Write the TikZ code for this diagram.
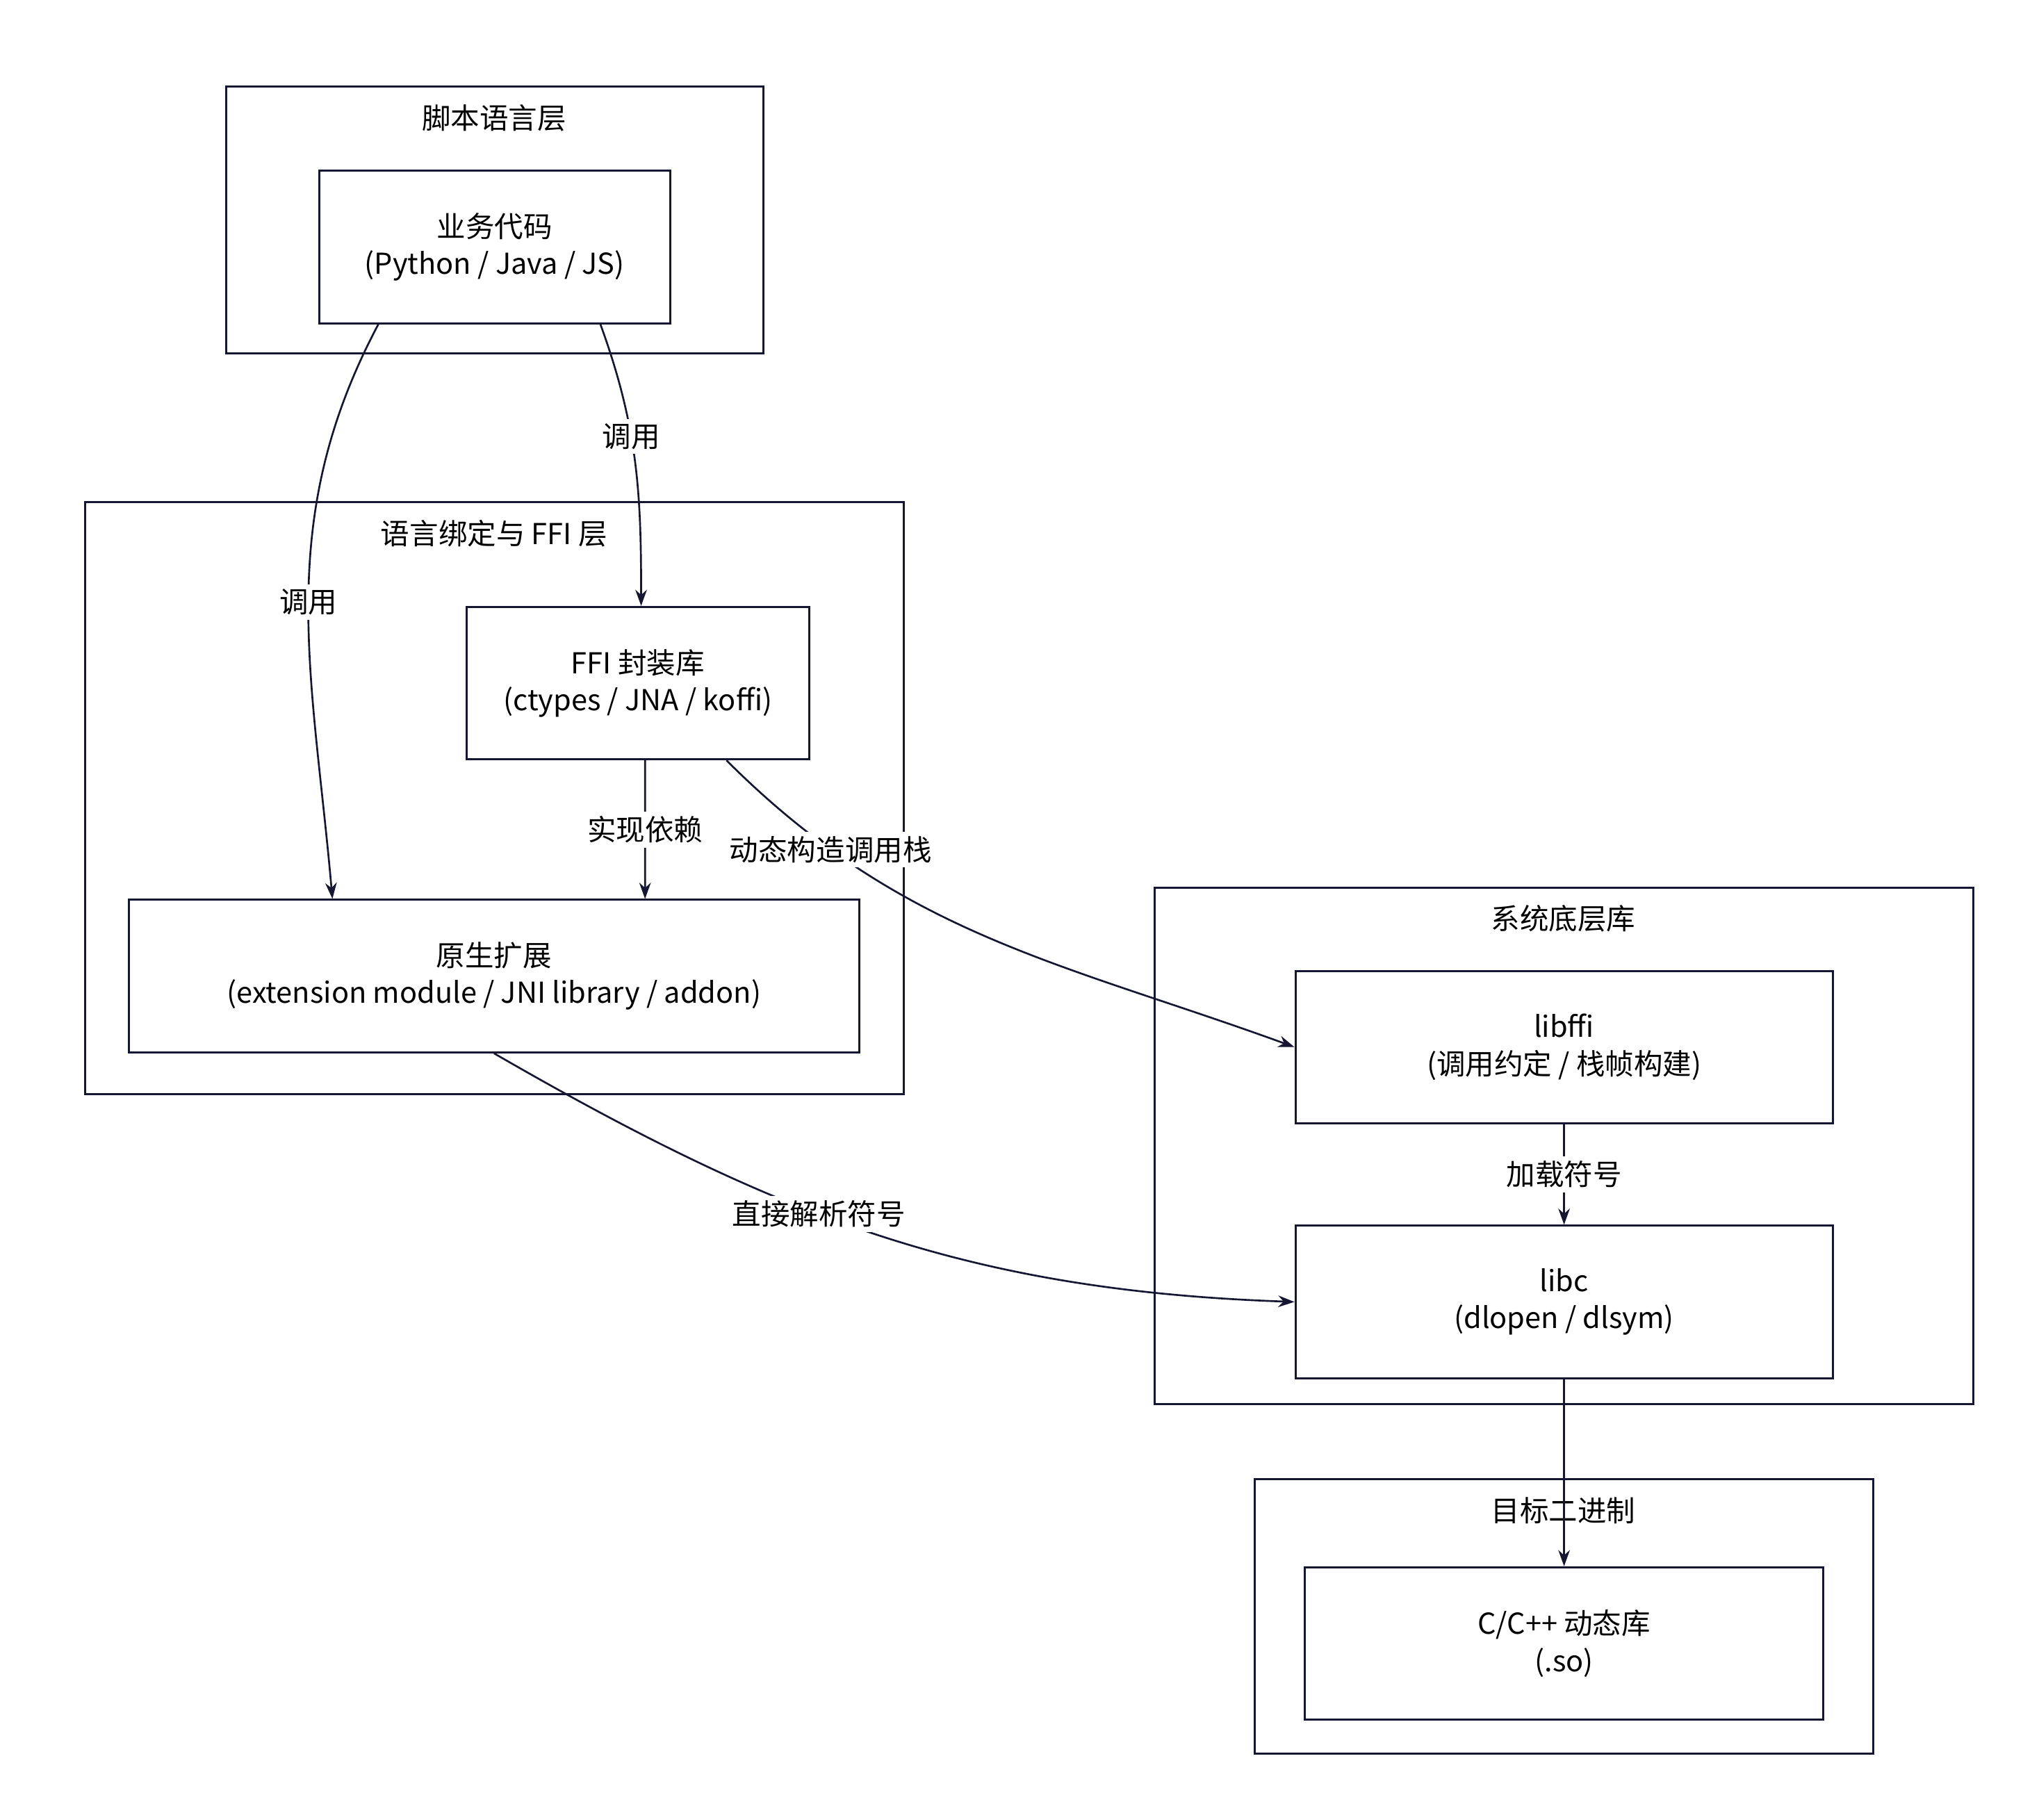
\documentclass[tikz,border=0pt]{standalone}
\usepackage{fontspec}
\setmainfont{Noto Sans CJK SC}
\usetikzlibrary{arrows.meta, positioning, calc}
\definecolor{edgeink}{RGB}{20, 22, 50}

\begin{document}
\begin{tikzpicture}[x=0.02cm, y=-0.02cm,
  font=\fontsize{12.5}{16}\selectfont,
  group/.style={draw=edgeink, line width=0.9pt, anchor=north west},
  box/.style={draw=edgeink, line width=0.9pt, align=center, inner sep=0pt},
  grouptitle/.style={inner sep=1pt},
  link/.style={draw=edgeink, line width=0.8pt, -{Stealth[length=7pt, width=5pt]}},
  lbl/.style={fill=white, inner sep=2pt}]
  \useasboundingbox (0,0) rectangle (1552,1385);

  % Groups
  \draw[group] (172,66) rectangle (581,269);
  \node[grouptitle] (tscript) at (376,90) {脚本语言层};
  \draw[group] (65,382) rectangle (688,833);
  \node[grouptitle] (tbind) at (376,406) {语言绑定与 FFI 层};
  \draw[group] (879,676) rectangle (1502,1069);
  \node[grouptitle] (tsys) at (1190,699) {系统底层库};
  \draw[group] (955,1126) rectangle (1426,1335);
  \node[grouptitle] (tbin) at (1190,1150) {目标二进制};

  % Boxes
  \node[box, minimum width=5.34cm, minimum height=2.32cm] (biz) at (376.5,188) {业务代码\\(Python / Java / JS)};
  \node[box, minimum width=5.22cm, minimum height=2.32cm] (ffi) at (485.5,520) {FFI 封装库\\(ctypes / JNA / koffi)};
  \node[box, minimum width=11.12cm, minimum height=2.32cm] (native) at (376,743) {原生扩展\\(extension module / JNI library / addon)};
  \node[box, minimum width=8.18cm, minimum height=2.32cm] (libffi) at (1190.5,797) {libffi\\(调用约定 / 栈帧构建)};
  \node[box, minimum width=8.18cm, minimum height=2.32cm] (libc) at (1190.5,991) {libc\\(dlopen / dlsym)};
  \node[box, minimum width=7.9cm, minimum height=2.32cm] (cpp) at (1190.5,1251) {C/C++ 动态库\\(.so)};

  % Connectors
  \draw[link] ([xshift=-1.77cm]biz.south) to[out=-118, in=95] node[lbl, pos=0.5] {调用} ([xshift=-2.46cm]native.north);
  \draw[link] ([xshift=1.61cm]biz.south) to[out=-70, in=90] node[lbl, pos=0.4] {调用} ([xshift=0.05cm]ffi.north);
  \draw[link] ([xshift=0.11cm]ffi.south) -- node[lbl] {实现依赖} ([xshift=2.3cm]native.north);
  \draw[link] ([xshift=1.35cm]ffi.south) to[out=-45, in=160] node[lbl, pos=0.2] {动态构造调用栈} (libffi.west);
  \draw[link] (native.south) to[out=-30, in=178] node[lbl, pos=0.42] {直接解析符号} (libc.west);
  \draw[link] (libffi.south) -- node[lbl] {加载符号} (libc.north);
  \draw[link] (libc.south) -- (cpp.north);
\end{tikzpicture}
\end{document}
